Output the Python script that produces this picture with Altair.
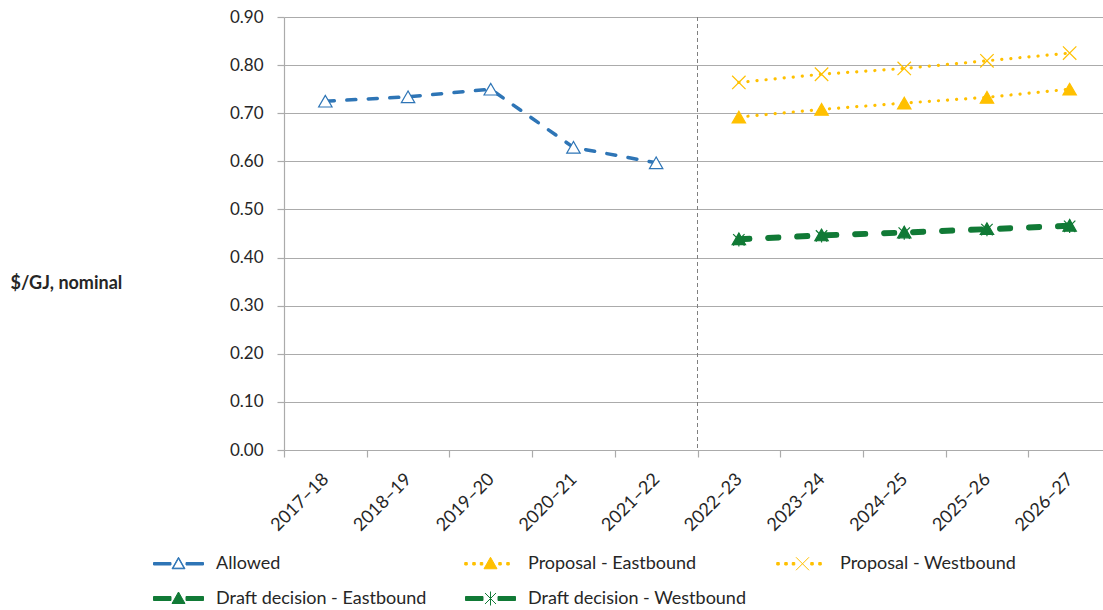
import altair as alt
import pandas as pd

# ---------------- data ----------------
categories = ["2017–18", "2018–19", "2019–20", "2020–21", "2021–22",
              "2022–23", "2023–24", "2024–25", "2025–26", "2026–27"]
allowed_years = categories[:5]
forecast_years = categories[5:]
divider_year = ["2022–23"]

series_names = ["Allowed", "Proposal - Eastbound", "Proposal - Westbound",
                "Draft decision - Eastbound", "Draft decision - Westbound"]

allowed = [0.725, 0.734, 0.750, 0.629, 0.597]
proposal_east = [0.692, 0.708, 0.721, 0.733, 0.750]
proposal_west = [0.764, 0.781, 0.793, 0.809, 0.825]
draft_east = [0.439, 0.447, 0.453, 0.460, 0.467]
draft_west = [0.437, 0.445, 0.451, 0.458, 0.465]

y_ticks = [0.0, 0.1, 0.2, 0.3, 0.4, 0.5, 0.6, 0.7, 0.8, 0.9]

rows = []
for name, years, vals in [
    (series_names[0], allowed_years, allowed),
    (series_names[1], forecast_years, proposal_east),
    (series_names[2], forecast_years, proposal_west),
    (series_names[3], forecast_years, draft_east),
    (series_names[4], forecast_years, draft_west),
]:
    for yr, v in zip(years, vals):
        rows.append({"series": name, "year": yr, "value": v})
df = pd.DataFrame(rows)
div_df = pd.DataFrame({"year": divider_year})

# ---------------- styles ----------------
BLUE = "#2E75B6"
YELLOW = "#FFC000"
GREEN = "#117A36"
colors = [BLUE, YELLOW, YELLOW, GREEN, GREEN]
point_fills = ["white", YELLOW, "transparent", GREEN, "transparent"]
X_PATH = "M-1,-1L1,1M-1,1L1,-1"
AST_PATH = "M-0.85,-0.85L0.85,0.85M-0.85,0.85L0.85,-0.85M0,-1L0,1"
point_shapes = ["triangle-up", "triangle-up", X_PATH, "triangle-up", AST_PATH]
dashes = [[9, 12.5], [0.1, 9], [0.1, 9], [11, 18], [11, 18]]
widths = [3.5, 3.2, 3.2, 5, 5]

FONT = "Lato"
TEXT = "#262626"
GRID = "#ABABAB"


def bar(x0, x1, h):
    return f"M{x0},{-h}L{x1},{-h}L{x1},{h}L{x0},{h}Z"


def dot(cx, h):
    return f"M{cx-h},{-h}L{cx+h},{-h}L{cx+h},{h}L{cx-h},{h}Z"


TRI = "M0,-0.26L0.26,0.2L-0.26,0.2Z"
TRI_HOLE = "M0,-0.26L0.26,0.2L-0.26,0.2ZM0,-0.209L-0.217,0.175L0.217,0.175Z"
LEG_X = "M-0.26,-0.26L0.26,0.26M-0.26,0.26L0.26,-0.26"
LEG_AST = "M-0.22,-0.22L0.22,0.22M-0.22,0.22L0.22,-0.22M0,-0.28L0,0.28"
dots_path = "".join(dot(c, 0.05) for c in [-0.98, -0.66, -0.36, 0.38, 0.7])

legend_paths = [
    bar(-1, -0.3, 0.05) + bar(0.3, 1, 0.05) + TRI_HOLE,
    dots_path + TRI,
    dots_path + LEG_X,
    bar(-1, -0.3, 0.08) + bar(0.3, 1, 0.08) + TRI,
    bar(-1, -0.3, 0.08) + bar(0.3, 1, 0.08) + LEG_AST,
]

legend = alt.Legend(
    title=None, orient="none", legendX=-131, legendY=521, direction="horizontal",
    columns=3, gridAlign="all", columnPadding=27, rowPadding=0,
    labelFont=FONT, labelFontSize=18, labelColor=TEXT, labelOffset=12, labelLimit=400,
    symbolSize=2500, symbolStrokeWidth=1, symbolOpacity=1,
)

x_scale = alt.Scale(domain=categories, paddingInner=0, paddingOuter=0, range=[0, 827])
x_axis = alt.Axis(title=None, labelAngle=-45, tickBand="extent", tickSize=7,
                  tickColor=GRID, domainColor=GRID, domainWidth=1.2, tickWidth=1.2,
                  grid=False, labelFont=FONT, labelFontSize=18, labelColor=TEXT,
                  labelPadding=13, labelOffset=-6)
y_axis = alt.Axis(values=y_ticks, format=".2f", tickSize=7, tickColor=GRID,
                  tickWidth=1.2, domainColor=GRID, domainWidth=1.2,
                  gridColor=GRID, gridWidth=1.2, labelPadding=14,
                  labelFont=FONT, labelFontSize=17, labelColor=TEXT,
                  title="$/GJ, nominal", titleAngle=0, titleAlign="left",
                  titleBaseline="middle", titleX=-274, titleY=266,
                  titleFont=FONT, titleFontSize=18, titleFontWeight="bold",
                  titleColor=TEXT)

x_enc = alt.X("year:N", scale=x_scale, axis=x_axis)
y_enc = alt.Y("value:Q", scale=alt.Scale(domain=[0, 0.9], nice=False), axis=y_axis)

rule = alt.Chart(div_df).mark_rule(color="#7F7F7F", strokeDash=[4, 3], strokeWidth=1).encode(
    x=alt.X("year:N", scale=x_scale, axis=x_axis, bandPosition=0)
)

lines = alt.Chart(df).mark_line(strokeCap="round").encode(
    x=x_enc,
    y=y_enc,
    detail="series:N",
    stroke=alt.Stroke("series:N", scale=alt.Scale(domain=series_names, range=colors), legend=None),
    strokeDash=alt.StrokeDash("series:N", scale=alt.Scale(domain=series_names, range=dashes), legend=None),
    strokeWidth=alt.StrokeWidth("series:N", scale=alt.Scale(type="ordinal", domain=series_names, range=widths), legend=None),
)

points = alt.Chart(df).mark_point(opacity=1, fillOpacity=1, strokeWidth=1.2, size=180).encode(
    x=x_enc,
    y=y_enc,
    shape=alt.Shape("series:N", scale=alt.Scale(domain=series_names, range=point_shapes), legend=None),
    fill=alt.Fill("series:N", scale=alt.Scale(domain=series_names, range=point_fills), legend=None),
    stroke=alt.Stroke("series:N", scale=alt.Scale(domain=series_names, range=colors), legend=None),
)

# legend-only layer: no rows drawn, scales carry the legend entries
legend_layer = alt.Chart(df).transform_filter("false").mark_point(
    opacity=1, fillOpacity=1, strokeWidth=1
).encode(
    x=x_enc,
    y=y_enc,
    shape=alt.Shape("series:N", scale=alt.Scale(domain=series_names, range=legend_paths), legend=legend),
    fill=alt.Fill("series:N", scale=alt.Scale(domain=series_names, range=colors), legend=legend),
    stroke=alt.Stroke("series:N", scale=alt.Scale(domain=series_names, range=colors), legend=legend),
)

chart = alt.layer(rule, lines, points, legend_layer).resolve_scale(
    shape="independent", fill="independent", stroke="independent"
).properties(
    width=819, height=433,
    autosize=alt.AutoSizeParams(type="none"),
    padding={"left": 284, "top": 17, "right": 0, "bottom": 160},
    background="white",
).configure_view(stroke=None)

chart.save("out.html", embed_options={"renderer": "svg", "actions": False})
